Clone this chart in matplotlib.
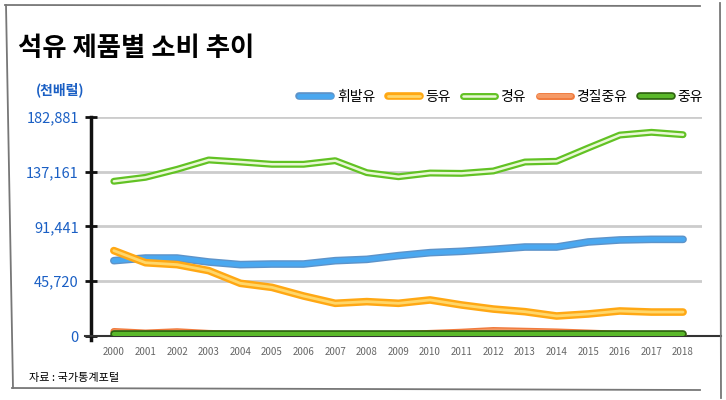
import numpy as np
import matplotlib.pyplot as plt
import matplotlib.patheffects as pe
from matplotlib.lines import Line2D

plt.rcParams['font.family'] = ['Noto Sans CJK KR', 'DejaVu Sans']

years = list(range(2000, 2019))
gasoline = [62900, 65100, 65100, 61800, 59600, 60100, 60100, 62900, 64000, 67100,
            69600, 70700, 72400, 74300, 74300, 78500, 80200, 80700, 80700]
kerosene = [71300, 61200, 59600, 54600, 44000, 40600, 33400, 27300, 28700, 27300,
            30100, 25900, 22500, 20300, 16700, 18400, 20900, 20000, 20000]
diesel = [129200, 132500, 139200, 147000, 145300, 143400, 143400, 146400, 136400, 133000,
          136100, 135800, 137800, 145300, 145900, 157000, 167800, 170100, 168100]
light_heavy = [3800, 2500, 3600, 2200, 1500, 1200, 1000, 1000, 1000, 1200,
               2200, 3200, 4600, 4000, 3400, 2500, 1500, 1000, 900]
heavy = [1500, 1500, 1500, 1500, 1500, 1500, 1500, 1500, 1500, 1500,
         1500, 1500, 1500, 1500, 1500, 1500, 1500, 1500, 1500]

names = ['휘발유', '등유', '경유', '경질중유', '중유']
yticks = [0, 45720, 91441, 137161, 182881]
ytick_labels = ['0', '45,720', '91,441', '137,161', '182,881']

# (outer colour, outer width, inner colour, inner width)
styles = {
    '휘발유': ('#5d93c9', 5.5, '#4aa8f0', 3.5),
    '등유': ('#ffa814', 5.5, '#ffd76a', 2),
    '경유': ('#62c224', 5, '#eaf8d6', 1.8),
    '경질중유': ('#f07a3c', 5, '#f59a66', 3),
    '중유': ('#2f6410', 5.5, '#5ab82a', 3),
}
series = [gasoline, kerosene, diesel, light_heavy, heavy]

fig = plt.figure(figsize=(7.26, 4.0), dpi=100)
ax = fig.add_axes([0.125, 0.16, 0.842, 0.5475])

for name, vals in zip(names, series):
    oc, ow, ic, iw = styles[name]
    ax.plot(years, vals, color=ic, lw=iw, solid_capstyle='round', solid_joinstyle='round',
            path_effects=[pe.Stroke(linewidth=ow, foreground=oc, capstyle='round'), pe.Normal()],
            zorder=3)

ax.set_xlim(1999.27, 2018.6)
ax.set_ylim(0, 182881)
ax.set_yticks(yticks)
ax.set_yticklabels(ytick_labels, color='#1a5fc4', fontsize=10.5)
ax.set_xticks(years)
ax.set_xticklabels([str(y) for y in years], color='#666666', fontsize=7)
ax.tick_params(axis='x', length=0, pad=8)
ax.tick_params(axis='y', direction='inout', length=9, width=2, color='#111111', pad=4)
ax.grid(axis='y', color='#cccccc', lw=2)
ax.set_axisbelow(True)
for s in ['top', 'right']:
    ax.spines[s].set_visible(False)
ax.spines['left'].set_linewidth(2.5)
ax.spines['left'].set_color('#111111')
ax.spines['bottom'].set_linewidth(1.5)
ax.spines['bottom'].set_color('#333333')
ax.spines['bottom'].set_bounds(1999.1, 2019.2)
ax.spines['left'].set_bounds(-3000, 182881)

# legend
handles = []
for name in names:
    oc, ow, ic, iw = styles[name]
    h, = ax.plot([], [], color=ic, lw=iw, solid_capstyle='round',
                 path_effects=[pe.Stroke(linewidth=ow, foreground=oc, capstyle='round'), pe.Normal()])
    handles.append(h)
fig.legend(handles, names, loc='center right', bbox_to_anchor=(0.985, 0.757), ncol=5,
           frameon=False, fontsize=10, handlelength=2.3, columnspacing=0.9, handletextpad=0.4)

fig.text(0.025, 0.88, '석유 제품별 소비 추이', fontsize=19, fontweight='bold', va='center')
fig.text(0.05, 0.775, '(천배럴)', fontsize=10, color='#1a5fc4', fontweight='bold', va='center')
fig.text(0.04, 0.055, '자료 : 국가통계포털', fontsize=8, va='center')

# hand-drawn looking frame
W, H = 726, 400
edges = [((5, 700), (5, 6)), ((720, 721), (3, 398)), ((6, 13), (5, 388)), ((12, 700), (388, 390))]
for xs, ys in edges:
    fig.add_artist(Line2D([x / W for x in xs], [1 - y / H for y in ys],
                          transform=fig.transFigure, color='#777777', lw=1.3))

fig.savefig('out.png', dpi=100)
